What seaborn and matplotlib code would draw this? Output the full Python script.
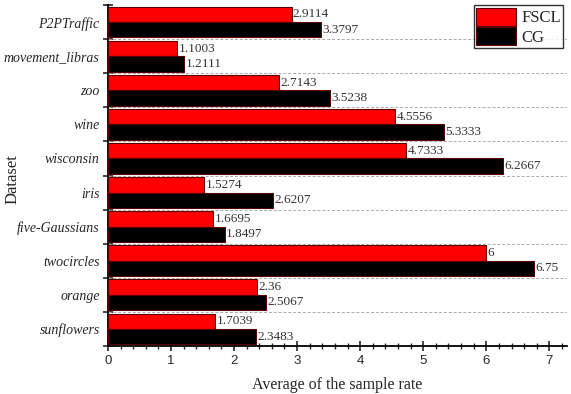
import matplotlib
matplotlib.use("Agg")
import matplotlib.pyplot as plt
from matplotlib.ticker import MultipleLocator, FixedLocator
import pandas as pd
import seaborn as sns

# data
datasets = ['P2PTraffic', 'movement_libras', 'zoo', 'wine', 'wisconsin', 'iris',
            'five-Gaussians', 'twocircles', 'orange', 'sunflowers']
fscl = [2.9114, 1.1003, 2.7143, 4.5556, 4.7333, 1.5274, 1.6695, 6, 2.36, 1.7039]
cg = [3.3797, 1.2111, 3.5238, 5.3333, 6.2667, 2.6207, 1.8497, 6.75, 2.5067, 2.3483]
fscl_labels = ['2.9114', '1.1003', '2.7143', '4.5556', '4.7333', '1.5274', '1.6695', '6', '2.36', '1.7039']
cg_labels = ['3.3797', '1.2111', '3.5238', '5.3333', '6.2667', '2.6207', '1.8497', '6.75', '2.5067', '2.3483']

df = pd.DataFrame({
    'Dataset': datasets * 2,
    'value': fscl + cg,
    'method': ['FSCL'] * len(datasets) + ['CG'] * len(datasets),
})

sns.set_style("white")
plt.rcParams['font.family'] = ['Liberation Serif', 'DejaVu Serif']

fig = plt.figure(figsize=(5.71, 3.94), dpi=100)
ax = fig.add_axes([0.189, 0.122, 0.804, 0.865])

sns.barplot(data=df, x='value', y='Dataset', hue='method', orient='h',
            palette={'FSCL': '#ff0000', 'CG': '#000000'}, width=0.9,
            edgecolor='#5a0000', linewidth=0.8, saturation=1, ax=ax, zorder=3)

for cont, labs in zip(ax.containers, [fscl_labels, cg_labels]):
    ax.bar_label(cont, labels=labs, padding=1, fontsize=9.5, color='#333333',
                 bbox=dict(facecolor='white', edgecolor='none', pad=0.3), zorder=4)

ax.set_xlim(0, 7.28)
ax.set_ylim(len(datasets) - 0.5, -0.5)

# boundaries between groups
bounds = [i + 0.5 for i in range(-1, len(datasets))]
for b in bounds[1:-1]:
    ax.axhline(b, color='#aaaaaa', lw=0.7, ls=(0, (3, 2)), zorder=1)

ax.yaxis.set_major_locator(FixedLocator(bounds))
ax.yaxis.set_minor_locator(FixedLocator(list(range(len(datasets)))))
ax.set_yticklabels([])
ax.set_yticklabels(datasets, minor=True, fontstyle='italic', fontsize=10)
ax.tick_params(axis='y', which='major', direction='inout', length=7, width=1.2, left=True)
ax.tick_params(axis='y', which='minor', length=0, pad=6)

ax.xaxis.set_major_locator(MultipleLocator(1))
ax.xaxis.set_minor_locator(MultipleLocator(0.2))
ax.tick_params(axis='x', which='major', direction='inout', length=7, width=1.2, bottom=True, pad=3)
ax.tick_params(axis='x', which='minor', direction='inout', length=4, width=1, bottom=True)
for t in ax.get_xticklabels():
    t.set_family(['Liberation Sans', 'DejaVu Sans'])
    t.set_fontsize(9.5)

for s in ['top', 'right']:
    ax.spines[s].set_visible(False)
for s in ['left', 'bottom']:
    ax.spines[s].set_color('black')
    ax.spines[s].set_linewidth(1.3)

ax.set_xlabel('Average of the sample rate', fontsize=11.5)
ax.xaxis.set_label_coords(0.5, -0.09)
ax.set_ylabel('Dataset', fontsize=12)
ax.yaxis.set_label_coords(-0.19, 0.49)

leg = ax.legend(loc='upper right', bbox_to_anchor=(0.992, 1.0), frameon=True, fancybox=False,
                edgecolor='black', fontsize=12, handlelength=2.4, handleheight=1.3,
                borderpad=0.15, labelspacing=0.05, handletextpad=0.3, borderaxespad=0)
leg.get_frame().set_linewidth(1.0)
leg.set_title(None)

fig.savefig('out.png', dpi=100)
